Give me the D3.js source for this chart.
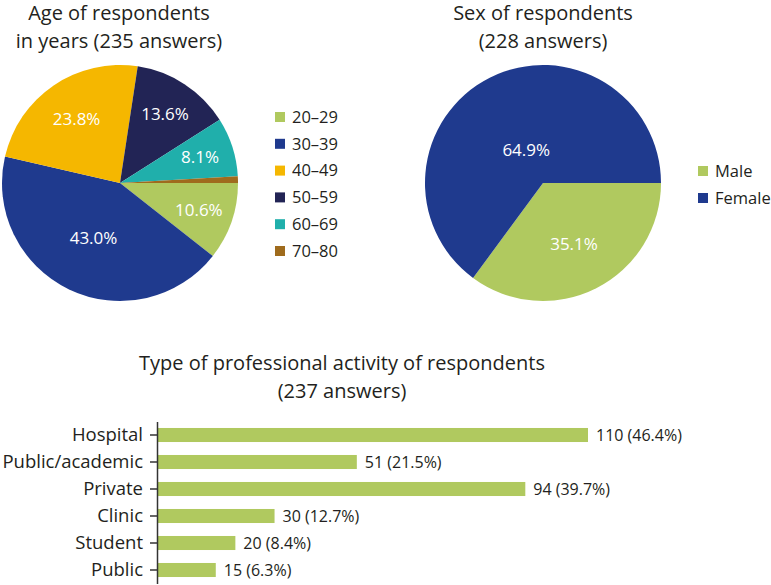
<!DOCTYPE html>
<html>
<head>
<meta charset="utf-8">
<script src="https://cdn.jsdelivr.net/npm/d3@7"></script>
<style>
  html, body { margin: 0; padding: 0; background: #fff; }
  svg { display: block; font-family: "Open Sans", sans-serif; }
</style>
</head>
<body>
<svg id="chart" width="771" height="585"></svg>
<script>
// ---------- DATA ----------
const ageGroups = ["20–29", "30–39", "40–49", "50–59", "60–69", "70–80"];
const agePercents = [10.6, 43.0, 23.8, 13.6, 8.1, 0.9];
const ageColors = ["#b0c95f", "#1f3a8e", "#f5b700", "#222455", "#20afab", "#9f6b1d"];

const sexGroups = ["Male", "Female"];
const sexPercents = [35.1, 64.9];
const sexColors = ["#b0c95f", "#1f3a8e"];

const activities = ["Hospital", "Public/academic", "Private", "Clinic", "Student", "Public"];
const activityCounts = [110, 51, 94, 30, 20, 15];
const activityPercents = [46.4, 21.5, 39.7, 12.7, 8.4, 6.3];
const barColor = "#b0c95f";

const ageTitle = ["Age of respondents", "in years (235 answers)"];
const sexTitle = ["Sex of respondents", "(228 answers)"];
const barTitle = ["Type of professional activity of respondents", "(237 answers)"];

const textColor = "#231f20";

// ---------- SETUP ----------
const svg = d3.select("#chart");

function drawTitle(lines, cx, y0, lh) {
  const t = svg.append("text")
    .attr("text-anchor", "middle")
    .attr("font-size", 20)
    .attr("fill", textColor);
  lines.forEach((l, i) => {
    t.append("tspan").attr("x", cx).attr("y", y0 + i * lh).text(l);
  });
}

function drawPie(labels, values, colors, cx, cy, r, legendX, legendY, legendStep) {
  const pie = d3.pie().sort(null)
    .startAngle(Math.PI / 2).endAngle(Math.PI / 2 + 2 * Math.PI);
  const arcs = pie(values);
  const arc = d3.arc().innerRadius(0).outerRadius(r);
  const g = svg.append("g").attr("transform", `translate(${cx},${cy})`);
  g.selectAll("path").data(arcs).join("path")
    .attr("d", arc)
    .attr("fill", (d, i) => colors[i]);

  // labels near the sector's area centroid
  g.selectAll("text.pl").data(arcs.filter(d => d.value > 5)).join("text")
    .attr("class", "pl")
    .attr("text-anchor", "middle")
    .attr("dy", "0.35em")
    .attr("font-size", 17)
    .attr("fill", "#fff")
    .attr("transform", d => {
      const theta = d.endAngle - d.startAngle;
      const dist = 1.08 * (2 * r * Math.sin(theta / 2)) / (3 * theta / 2);
      const mid = (d.startAngle + d.endAngle) / 2;
      return `translate(${dist * Math.sin(mid)},${-dist * Math.cos(mid)})`;
    })
    .text(d => d.value.toFixed(1) + "%");

  // legend
  const lg = svg.append("g");
  const items = lg.selectAll("g").data(labels).join("g")
    .attr("transform", (d, i) => `translate(${legendX},${legendY + i * legendStep})`);
  items.append("rect")
    .attr("x", 0).attr("y", -5).attr("width", 10).attr("height", 10)
    .attr("fill", (d, i) => colors[i]);
  items.append("text")
    .attr("x", 17).attr("dy", "0.35em")
    .attr("font-size", 16.5)
    .attr("fill", textColor)
    .text(d => d);
}

// ---------- PIE CHARTS ----------
drawTitle(ageTitle, 119, 20, 28);
drawPie(ageGroups, agePercents, ageColors, 120, 183, 118, 275, 117, 26.8);

drawTitle(sexTitle, 543, 20, 28);
drawPie(sexGroups, sexPercents, sexColors, 543, 183, 118, 698, 171, 27);

// ---------- BAR CHART ----------
drawTitle(barTitle, 342, 370, 28);

const x = d3.scaleLinear().domain([0, d3.max(activityCounts)]).range([157, 588]);
const y = d3.scaleBand().domain(activities).range([421.5, 583.5])
  .paddingInner(0.48).paddingOuter(0.24);

svg.append("g").selectAll("rect").data(activities).join("rect")
  .attr("x", x(0))
  .attr("y", d => y(d))
  .attr("width", (d, i) => x(activityCounts[i]) - x(0))
  .attr("height", y.bandwidth())
  .attr("fill", barColor);

svg.append("g").selectAll("text").data(activities).join("text")
  .attr("x", (d, i) => x(activityCounts[i]) + 8)
  .attr("y", d => y(d) + y.bandwidth() / 2)
  .attr("dy", "0.35em")
  .attr("font-size", 16)
  .attr("fill", textColor)
  .text((d, i) => `${activityCounts[i]} (${activityPercents[i].toFixed(1)}%)`);

const yAxis = svg.append("g")
  .attr("transform", `translate(${x(0)},0)`)
  .call(d3.axisLeft(y).tickSize(7).tickSizeOuter(0).tickPadding(7));
yAxis.select(".domain").attr("stroke", "#333").attr("stroke-width", 1.5);
yAxis.selectAll(".tick line").attr("stroke", "#333").attr("stroke-width", 1.5);
yAxis.selectAll(".tick text")
  .attr("font-size", 18.5)
  .attr("font-family", "Open Sans, sans-serif")
  .attr("fill", textColor);
</script>
</body>
</html>
